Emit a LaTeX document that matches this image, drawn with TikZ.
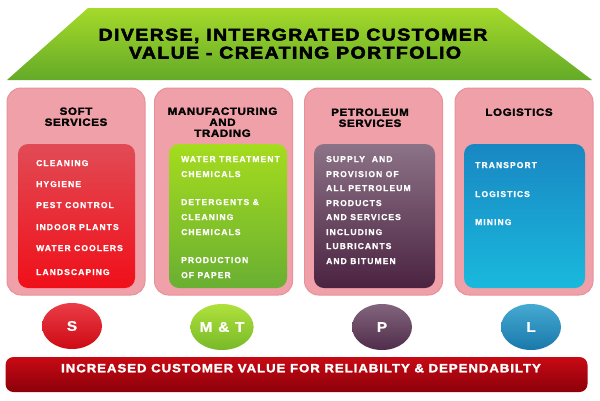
\documentclass[tikz,border=0pt]{standalone}
\usepackage{fontspec}
\setmainfont{Liberation Sans}
\usetikzlibrary{shapes.geometric}
\newfontfamily\topf{Liberation Sans Bold}[FakeBold=3, FakeStretch=1.15, LetterSpace=8]
\newfontfamily\blk{Liberation Sans Bold}[FakeBold=2, FakeStretch=1.1, LetterSpace=6]
\newfontfamily\itm{Liberation Sans Bold}[FakeBold=1, LetterSpace=13]
\newfontfamily\barf{Liberation Sans Bold}[FakeBold=2, FakeStretch=1.1, LetterSpace=8]
\newfontfamily\circf{Liberation Sans Bold}[FakeBold=1, FakeStretch=1.1, LetterSpace=10]
\definecolor{trapT}{RGB}{165,218,42}
\definecolor{trapB}{RGB}{100,170,40}
\definecolor{pinkp}{RGB}{240,160,168}
\definecolor{pinkedge}{RGB}{232,145,155}
\definecolor{redT}{RGB}{225,75,85}
\definecolor{redB}{RGB}{240,15,25}
\definecolor{grnT}{RGB}{165,220,30}
\definecolor{grnB}{RGB}{105,175,50}
\definecolor{purT}{RGB}{140,115,135}
\definecolor{purB}{RGB}{75,35,65}
\definecolor{bluT}{RGB}{25,135,195}
\definecolor{bluB}{RGB}{25,185,220}
\definecolor{eSt}{RGB}{235,60,70}
\definecolor{eSb}{RGB}{205,10,20}
\definecolor{eMt}{RGB}{175,225,60}
\definecolor{eMb}{RGB}{120,185,40}
\definecolor{ePt}{RGB}{130,100,125}
\definecolor{ePb}{RGB}{80,45,75}
\definecolor{eLt}{RGB}{70,170,210}
\definecolor{eLb}{RGB}{25,120,170}
\definecolor{barT}{RGB}{200,10,20}
\definecolor{barB}{RGB}{140,0,10}
\begin{document}
\begin{tikzpicture}[x=1pt,y=-1pt,
  panel/.style={draw=pinkedge, line width=1pt, fill=pinkp, rounded corners=14pt,
    minimum width=138pt, minimum height=207pt, inner sep=0pt},
  innerbox/.style={draw=none, rounded corners=10pt, minimum height=144pt, inner sep=0pt},
  ptitle/.style={anchor=north, inner sep=0pt, align=center, text=black,
    font=\blk\fontsize{10.5}{11}\selectfont},
  item/.style={anchor=base west, inner sep=0pt, text=white,
    font=\itm\fontsize{8.5}{10}\selectfont},
  badge/.style={ellipse, draw=none, minimum width=60pt, minimum height=46pt, inner sep=0pt,
    text=white, font=\circf\fontsize{14}{16}\selectfont},
  toptext/.style={anchor=base, inner sep=0pt, text=black, font=\topf\fontsize{17}{19}\selectfont}
]
\useasboundingbox (0,0) rectangle (600,400);
\fill[white] (0,0) rectangle (600,400);

% top trapezoid
\shade[top color=trapT, bottom color=trapB] (88,8) -- (497,8) -- (592,80) -- (7,80) -- cycle;
\node[toptext] (t1) at (293,40.5) {DIVERSE, INTERGRATED CUSTOMER};
\node[toptext] (t2) at (295,58.5) {VALUE - CREATING PORTFOLIO};

% panels
\node[panel] (p1) at (76,191.5) {};
\node[panel] (p2) at (223.5,191.5) {};
\node[panel] (p3) at (373.5,191.5) {};
\node[panel] (p4) at (524,191.5) {};

\node[ptitle] (h1) at (76,107.3) {SOFT\\SERVICES};
\node[ptitle] (h2) at (222.5,107.3) {MANUFACTURING\\AND\\TRADING};
\node[ptitle] (h3) at (370,108.3) {PETROLEUM\\SERVICES};
\node[ptitle] (h4) at (519,108.3) {LOGISTICS};

% inner boxes
\node[innerbox, minimum width=117pt, top color=redT, bottom color=redB] (b1) at (76.5,216) {};
\node[innerbox, minimum width=118pt, top color=grnT, bottom color=grnB] (b2) at (228,216) {};
\node[innerbox, minimum width=121pt, top color=purT, bottom color=purB] (b3) at (374.5,216) {};
\node[innerbox, minimum width=121pt, top color=bluT, bottom color=bluB] (b4) at (524.5,216) {};

% soft services items
\node[item] (s1) at (36,166) {CLEANING};
\node[item] (s2) at (36,187) {HYGIENE};
\node[item] (s3) at (36,208) {PEST CONTROL};
\node[item] (s4) at (36,230) {INDOOR PLANTS};
\node[item] (s5) at (36,251) {WATER COOLERS};
\node[item] (s6) at (36,275) {LANDSCAPING};

% manufacturing items
\node[item] (m1) at (181,162) {WATER TREATMENT};
\node[item] (m2) at (181,177) {CHEMICALS};
\node[item] (m3) at (181,205) {DETERGENTS \&};
\node[item] (m4) at (181,220) {CLEANING};
\node[item] (m5) at (181,235) {CHEMICALS};
\node[item] (m6) at (181,263) {PRODUCTION};
\node[item] (m7) at (181,278) {OF PAPER};

% petroleum items
\node[item] (q1) at (326,162) {SUPPLY\ \ AND};
\node[item] (q2) at (326,177) {PROVISION OF};
\node[item] (q3) at (326,191) {ALL PETROLEUM};
\node[item] (q4) at (326,206) {PRODUCTS};
\node[item] (q5) at (326,220) {AND SERVICES};
\node[item] (q6) at (326,235) {INCLUDING};
\node[item] (q7) at (326,249) {LUBRICANTS};
\node[item] (q8) at (326,264) {AND BITUMEN};

% logistics items
\node[item] (l1) at (475,168) {TRANSPORT};
\node[item] (l2) at (475,197) {LOGISTICS};
\node[item] (l3) at (475,225) {MINING};

% badges
\node[badge, top color=eSt, bottom color=eSb] (cS) at (72,326) {S};
\node[badge, top color=eMt, bottom color=eMb] (cM) at (222,327) {M \& T};
\node[badge, top color=ePt, bottom color=ePb] (cP) at (382,327) {P};
\node[badge, top color=eLt, bottom color=eLb] (cL) at (531,327) {L};

% bottom bar
\node[draw=none, rounded corners=8pt, minimum width=582pt, minimum height=35pt, inner sep=0pt,
  top color=barT, bottom color=barB] (bar) at (296.5,374.5) {};
\node[anchor=base, inner sep=0pt, text=white, font=\barf\fontsize{12}{14}\selectfont]
  (bt) at (301,372.3) {INCREASED CUSTOMER VALUE FOR RELIABILTY \& DEPENDABILTY};
\end{tikzpicture}
\end{document}
